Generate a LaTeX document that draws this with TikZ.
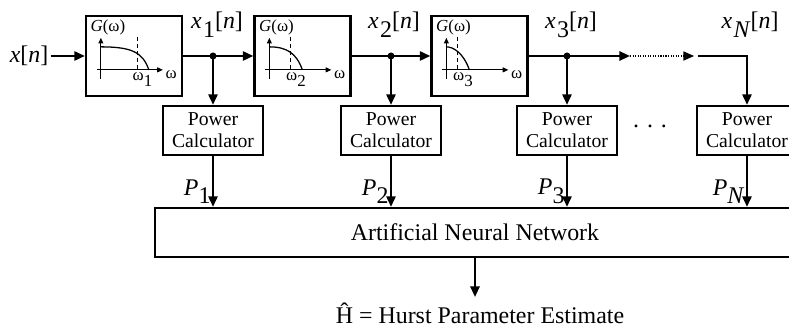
\documentclass[tikz,border=0pt]{standalone}
\usepackage{fontspec}
\setmainfont{Liberation Serif}
\usetikzlibrary{arrows.meta,positioning}
\newcommand{\sig}[1]{\textit{x}\kern1pt\raisebox{-0.8ex}{#1}[\textit{n}]}
\newcommand{\pw}[1]{\textit{P}\raisebox{-0.8ex}{#1}}
\newcommand{\wcut}[1]{ω\raisebox{-0.7ex}{#1}}

\begin{document}
\begin{tikzpicture}[x=0.025cm, y=-0.025cm, line width=1.6pt,
  >={Triangle[length=7.5pt,width=6.5pt]},
  filterbox/.style={draw, minimum width=2.4cm, minimum height=2cm, inner sep=0pt},
  powerbox/.style={draw, minimum width=2.5cm, minimum height=1.225cm, inner sep=1pt,
    align=center, font=\fontsize{14}{15.5}\selectfont},
  siglabel/.style={font=\fontsize{17}{18}\selectfont, inner sep=1pt},
  axislabel/.style={font=\fontsize{12}{13}\selectfont, inner sep=0.5pt},
  axis/.style={line width=0.7pt, -{Triangle[length=4pt,width=3.5pt]}}]
  \useasboundingbox (0,0) rectangle (789,327);
  \clip (0,0) rectangle (789,327);

  % filters, each with its little response sketch
  \foreach \k/\cx/\cw in {1/134/52, 2/302.5/37, 3/479.5/27}{%
    \node[filterbox] (f\k) at (\cx,56) {};
    \begin{scope}[shift={(f\k.north west)}]
      \node[axislabel, anchor=north west] (g\k) at (4,3) {\textit{G}(ω)};
      \draw[axis] (16,64) -- (16,23);
      \draw[axis] (12,55) -- (78,55);
      \node[axislabel, anchor=west] (w\k) at (79,60) {ω};
      \draw[line width=0.5pt, densely dashed] (\cw,22) -- (\cw,55);
      \draw[line width=0.9pt] (16,32) .. controls (\cw-4,32) and (\cw+6,38) .. (\cw+12,55);
      \node[axislabel, anchor=north west] (c\k) at (\cw-6,56) {\wcut{\k}};
    \end{scope}}

  % power calculators
  \foreach \k/\px in {1/213, 2/391, 3/567, N/747}
    \node[powerbox] (pc\k) at (\px,130.5) {Power\\Calculator};
  \node[siglabel] (dots) at (650,126) {.\,\,.\,\,.};

  \node[draw, minimum width=16cm, minimum height=1.225cm, font=\fontsize{17}{18}\selectfont]
    (ann) at (475,232.5) {Artificial Neural Network};
  \node[siglabel, anchor=base] (out) at (480,323) {Ĥ = Hurst Parameter Estimate};

  % signal chain
  \node[siglabel, left=0.85cm of f1] (xin) {\textit{x}[\textit{n}]};
  \coordinate (j1) at (213,56);
  \coordinate (j2) at (391,56);
  \coordinate (j3) at (567,56);
  \coordinate (d1) at (630,56);
  \coordinate (d2) at (694,56);
  \coordinate (d3) at (698,56);
  \draw[->] (xin.east) -- (f1.west);
  \draw (f1.east) -- (j1);
  \draw[->] (j1) -- (f2.west);
  \draw (f2.east) -- (j2);
  \draw[->] (j2) -- (f3.west);
  \draw (f3.east) -- (j3);
  \draw[->] (j3) -- (d1);
  \draw[line width=0.8pt, densely dotted, ->] (d1) -- (d2);
  \draw[->] (d3) -| (pcN.north);
  \foreach \k in {1,2,3}{%
    \fill (j\k) circle (2.5pt);
    \draw[->] (j\k) -- (pc\k.north);}

  \node[siglabel, anchor=base] (x1) at (217,29) {\sig{1}};
  \node[siglabel, anchor=base] (x2) at (394,29) {\sig{2}};
  \node[siglabel, anchor=base] (x3) at (571,29) {\sig{3}};
  \node[siglabel, anchor=base] (xN) at (750,29) {\sig{\textit{N}}};

  % powers into the network
  \foreach \k/\s in {1/1, 2/2, 3/3, N/\textit{N}}
    \draw[->] (pc\k.south) -- (pc\k.south |- ann.north)
      node[siglabel, pos=0.7, left=0pt] (p\k) {\pw{\s}};
  \draw[->] (ann.south) -- (ann.south |- 0,297);
\end{tikzpicture}
\end{document}
